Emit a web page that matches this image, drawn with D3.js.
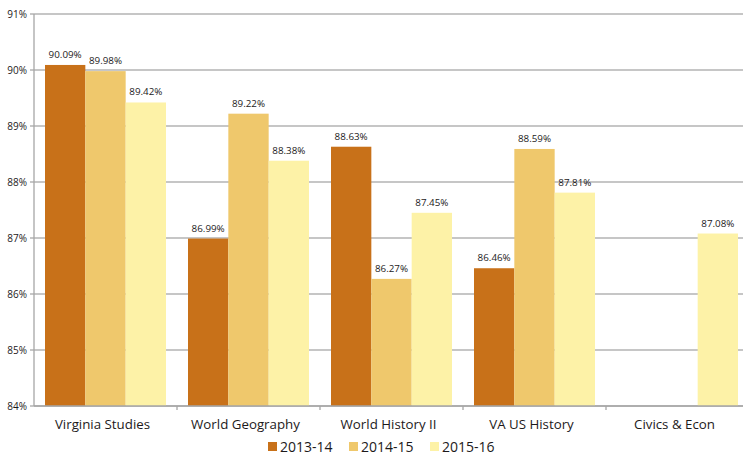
<!DOCTYPE html>
<html>
<head>
<meta charset="utf-8">
<script src="https://cdn.jsdelivr.net/npm/d3@7"></script>
<style>
  body { margin: 0; background: #fff; }
  text { font-family: "Open Sans", sans-serif; fill: #1d1a1b; }
</style>
</head>
<body>
<svg id="chart" width="743" height="457"></svg>
<script>
// chart data
const categories = ['Virginia Studies', 'World Geography', 'World History II', 'VA US History', 'Civics & Econ']
const years = ['2013-14', '2014-15', '2015-16']
const s2013 = [90.09, 86.99, 88.63, 86.46, null]
const s2014 = [89.98, 89.22, 86.27, 88.59, null]
const s2015 = [89.42, 88.38, 87.45, 87.81, 87.08]
const yTicks = [84, 85, 86, 87, 88, 89, 90, 91]

const colors = ['#c87119', '#efc86c', '#fdf2a7']
const series = [s2013, s2014, s2015]

const margin = { top: 14, left: 34, bottom: 51 }
const width = 749 - margin.left
const height = 457 - margin.top - margin.bottom

const svg = d3.select('#chart')
const g = svg.append('g').attr('transform', `translate(${margin.left},${margin.top})`)

const x = d3.scaleBand().domain(categories).range([0, width]).paddingInner(0).paddingOuter(0)
const inner = d3.scaleBand().domain(years).range([11, x.bandwidth() - 11])
const y = d3.scaleLinear().domain([84, 91]).range([height, 0])

// gridlines
g.append('g').selectAll('line')
  .data(yTicks)
  .join('line')
  .attr('x1', -4).attr('x2', width)
  .attr('y1', d => y(d)).attr('y2', d => y(d))
  .attr('stroke', '#b3b3b3').attr('stroke-width', 1.3)

// y tick labels
g.append('g').selectAll('text')
  .data(yTicks)
  .join('text')
  .attr('x', -7).attr('y', d => y(d) + 3.5)
  .attr('text-anchor', 'end')
  .style('font-size', '10px')
  .text(d => d + '%')

// bars
const rows = []
categories.forEach((c, i) => {
  series.forEach((s, j) => {
    if (s[i] != null) rows.push({ cat: c, year: years[j], v: s[i], color: colors[j] })
  })
})

g.append('g').selectAll('rect')
  .data(rows)
  .join('rect')
  .attr('x', d => x(d.cat) + inner(d.year))
  .attr('width', inner.bandwidth())
  .attr('y', d => y(d.v))
  .attr('height', d => y(84) - y(d.v))
  .attr('fill', d => d.color)

g.append('g').selectAll('text')
  .data(rows)
  .join('text')
  .attr('x', d => x(d.cat) + inner(d.year) + inner.bandwidth() / 2)
  .attr('y', d => y(d.v) - 7)
  .attr('text-anchor', 'middle')
  .style('font-size', '9.8px')
  .text(d => d.v.toFixed(2) + '%')

// axes lines
g.append('line').attr('x1', 0).attr('x2', 0).attr('y1', 0).attr('y2', height)
  .attr('stroke', '#a6a6a6').attr('stroke-width', 1.3)
g.append('line').attr('x1', 0).attr('x2', width).attr('y1', height).attr('y2', height)
  .attr('stroke', '#a6a6a6').attr('stroke-width', 1.3)

// category separators
g.append('g').selectAll('line')
  .data(categories.slice(1))
  .join('line')
  .attr('x1', d => x(d)).attr('x2', d => x(d))
  .attr('y1', height).attr('y2', height + 4)
  .attr('stroke', '#a6a6a6').attr('stroke-width', 1.3)

g.append('g').selectAll('text')
  .data(categories)
  .join('text')
  .attr('x', d => x(d) + x.bandwidth() / 2 - 3)
  .attr('y', height + 23)
  .attr('text-anchor', 'middle')
  .style('font-size', '13.3px')
  .text(d => d)

// legend
const legend = svg.append('g').attr('transform', 'translate(268,442)')
years.forEach((yr, i) => {
  const item = legend.append('g').attr('transform', `translate(${i * 81},0)`)
  item.append('rect').attr('width', 9).attr('height', 9).attr('fill', colors[i])
  item.append('text').attr('x', 12).attr('y', 10).style('font-size', '14px').text(yr)
})
</script>
</body>
</html>
